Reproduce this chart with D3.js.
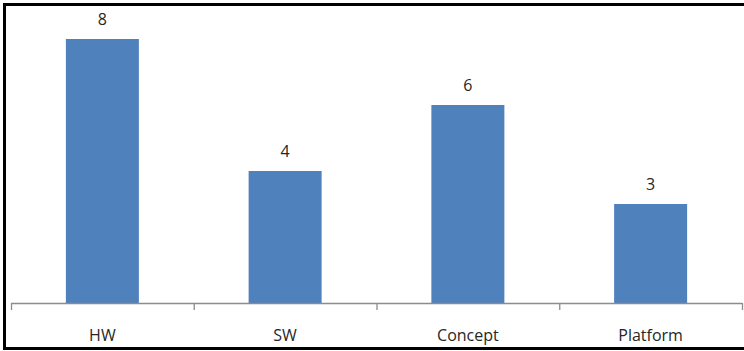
<!DOCTYPE html>
<html>
<head>
<meta charset="utf-8">
<script src="https://cdn.jsdelivr.net/npm/d3@7"></script>
<style>
  html, body { margin: 0; padding: 0; background: #fff; }
  svg { display: block; }
</style>
</head>
<body>
<script>
// Category counts
const categories = ["HW", "SW", "Concept", "Platform"];
const values = [8, 4, 6, 3];

const W = 744, H = 351;
const svg = d3.select("body").append("svg").attr("width", W).attr("height", H);

// Frame around the chart
svg.append("rect")
  .attr("x", 4.5).attr("y", 4.5)
  .attr("width", W + 10).attr("height", 344)
  .attr("fill", "none").attr("stroke", "#000").attr("stroke-width", 3);

const plotLeft = 11, plotRight = 742, axisY = 303;

const x = d3.scaleBand().domain(categories).range([plotLeft, plotRight]).paddingInner(0).paddingOuter(0);
const y = d3.scaleLinear().domain([0, 8]).range([axisY, 39]);

const barW = 73;

svg.selectAll("rect.bar").data(values).join("rect")
  .attr("class", "bar")
  .attr("x", (d, i) => x(categories[i]) + x.bandwidth() / 2 - barW / 2)
  .attr("y", d => y(d))
  .attr("width", barW)
  .attr("height", d => y(0) - y(d))
  .attr("fill", "#4F81BD");

svg.selectAll("text.val").data(values).join("text")
  .attr("class", "val")
  .attr("x", (d, i) => x(categories[i]) + x.bandwidth() / 2)
  .attr("y", d => y(d) - 14)
  .attr("text-anchor", "middle")
  .attr("font-family", "Open Sans, sans-serif")
  .attr("font-size", 16)
  .attr("fill", "#262626")
  .text(d => d);

// Category axis with tick marks between categories
const axisColor = "#8c8c8c";
svg.append("line")
  .attr("x1", plotLeft).attr("x2", plotRight)
  .attr("y1", axisY + 0.5).attr("y2", axisY + 0.5)
  .attr("stroke", axisColor).attr("stroke-width", 1.3);

const tickXs = categories.map(c => x(c)).concat([x.range()[1]]);
svg.selectAll("line.tick").data(tickXs).join("line")
  .attr("class", "tick")
  .attr("x1", d => d + 0.5).attr("x2", d => d + 0.5)
  .attr("y1", axisY).attr("y2", axisY + 7)
  .attr("stroke", axisColor).attr("stroke-width", 1.3);

svg.selectAll("text.cat").data(categories).join("text")
  .attr("class", "cat")
  .attr("x", c => x(c) + x.bandwidth() / 2)
  .attr("y", 341)
  .attr("text-anchor", "middle")
  .attr("font-family", "Open Sans, sans-serif")
  .attr("font-size", 16)
  .attr("fill", "#262626")
  .text(c => c);
</script>
</body>
</html>
